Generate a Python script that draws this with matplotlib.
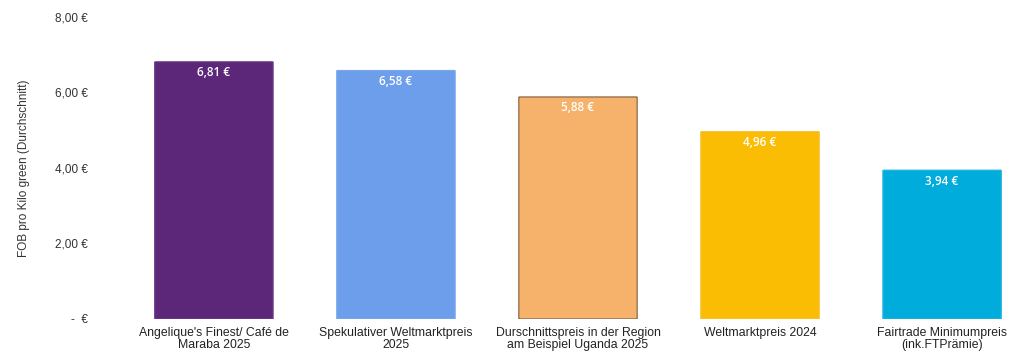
import matplotlib.pyplot as plt
from matplotlib.patches import FancyBboxPatch
import numpy as np

plt.rcParams['font.family'] = ['Liberation Sans', 'DejaVu Sans']

categories = ["Angelique's Finest/ Café de\nMaraba 2025",
              "Spekulativer Weltmarktpreis\n2025",
              "Durschnittspreis in der Region\nam Beispiel Uganda 2025",
              "Weltmarktpreis 2024",
              "Fairtrade Minimumpreis\n(ink.FTPrämie)"]
prices = [6.81, 6.58, 5.88, 4.96, 3.94]
colors = ["#5c2679", "#6d9eeb", "#f6b26b", "#fbbc04", "#00acdc"]
edges = ["#6a3a86", "#7aa6ec", "#8a6a4a", "#f5c030", "#20b4de"]
yticks = [0, 2, 4, 6, 8]
ytick_labels = ["-  €", "2,00 €", "4,00 €", "6,00 €", "8,00 €"]

fig = plt.figure(figsize=(10.24, 3.6), dpi=100)
ax = fig.add_axes([0.120, 0.114, 0.88, 0.839])

x = np.arange(len(prices))
w = 0.65
for xi, v, c, e in zip(x, prices, colors, edges):
    patch = FancyBboxPatch((xi - w / 2, 0), w, v,
                           boxstyle="round,pad=0,rounding_size=0.015",
                           mutation_aspect=1 / 4.5,
                           facecolor=c, edgecolor=e, linewidth=0.9)
    ax.add_patch(patch)
    ax.text(xi, v - 0.12, f"{v:.2f} €".replace(".", ","), ha="center", va="top",
            color="white", fontsize=8.5, fontweight="semibold", family=["Open Sans", "DejaVu Sans"])

ax.set_xlim(-0.5, 4.45)
ax.set_ylim(0, 8)
ax.set_xticks(x)
ax.set_xticklabels(categories, fontsize=8.8, color="#222222", linespacing=1.0)
ax.set_yticks(yticks)
ax.set_yticklabels(ytick_labels, fontsize=8.5, color="#333333")
ax.tick_params(length=0)
ax.tick_params(axis="x", pad=6)
ax.tick_params(axis="y", pad=25)
for s in ax.spines.values():
    s.set_visible(False)
ax.set_ylabel("FOB pro Kilo green (Durchschnitt)", fontsize=8.5, color="#333333", labelpad=18)

fig.savefig("out.png", dpi=100)
